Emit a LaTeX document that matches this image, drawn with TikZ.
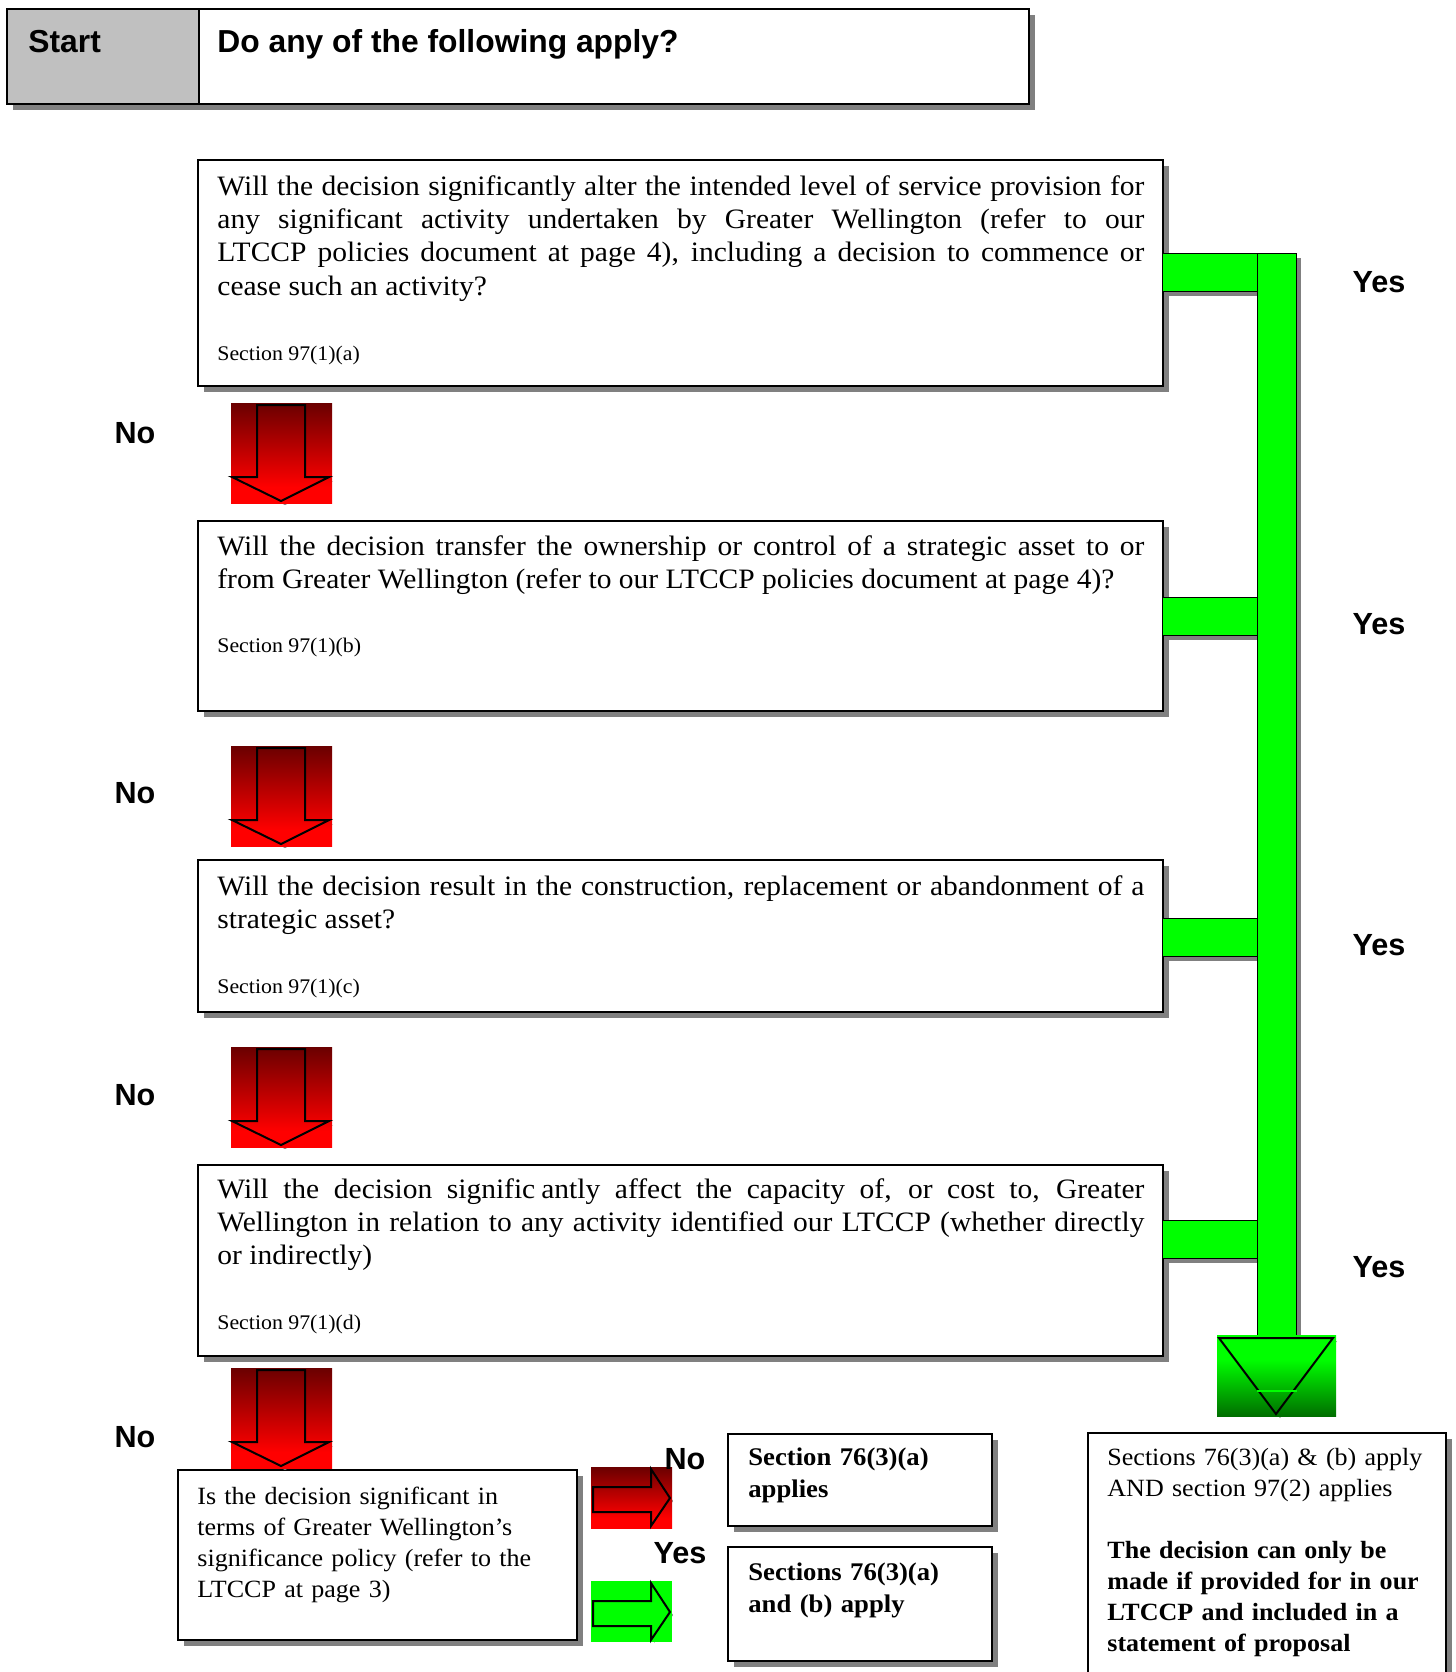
\documentclass[tikz,border=0pt]{standalone}
\usepackage{fontspec}
\setmainfont{Liberation Serif}[FakeStretch=1.05]
\newfontfamily\labelsans{Liberation Sans}
\usetikzlibrary{shadows}

\definecolor{boxshadow}{HTML}{808080}
\definecolor{startgray}{HTML}{C0C0C0}
\definecolor{pipegreen}{HTML}{00FF00}
\definecolor{greendark}{HTML}{006E00}
\definecolor{reddark}{HTML}{6A0000}
\definecolor{redbright}{HTML}{FF0000}

% gradients of the block arrows
\pgfdeclareverticalshading{redfade}{100bp}{color(0bp)=(redbright); color(33bp)=(redbright); color(75bp)=(reddark); color(100bp)=(reddark)}
\pgfdeclareverticalshading{greenfade}{100bp}{color(0bp)=(greendark); color(25bp)=(greendark); color(60bp)=(pipegreen); color(100bp)=(pipegreen)}

% fonts
\newcommand{\qfont}{\fontsize{14.05pt}{16.7pt}\selectfont\tolerance=10000}
\newcommand{\secfont}{\fontsize{10.4pt}{12pt}\selectfont}
\newcommand{\botfont}{\fontsize{12.4pt}{15.5pt}\selectfont}
\newcommand{\resfont}{\fontsize{12.7pt}{16pt}\selectfont\bfseries}
\newcommand{\ansfont}{\labelsans\bfseries\fontsize{15.3pt}{18pt}\selectfont}
\newcommand{\headfont}{\labelsans\bfseries\fontsize{15.9pt}{18pt}\selectfont}

\tikzset{
  qbox/.style={draw, line width=1pt, fill=white, anchor=north west, inner sep=0pt,
    drop shadow={shadow xshift=3pt, shadow yshift=-3pt, fill=boxshadow, opacity=1}},
  qtext/.style={anchor=base west, inner sep=0pt, text width=463.5pt, align=justify, font=\qfont},
  sectext/.style={anchor=base west, inner sep=0pt, font=\secfont},
  bottext/.style={anchor=base west, inner sep=0pt, align=left, font=\botfont},
  headtext/.style={anchor=base west, inner sep=0pt, font=\headfont},
  ans/.style={anchor=base, inner sep=0pt, font=\ansfont},
  pipe/.style={fill=pipegreen, draw=black, line width=0.5pt},
  blockline/.style={draw=black, line width=1pt, line join=miter},
}

% red block arrow pointing down, #1,#2 = top left corner
\newcommand{\downblock}[2]{%
  \begin{scope}[shift={(#1,#2)}]
    \fill[boxshadow] (30,6) -- (78,6) -- (78,78) -- (102,78) -- (54,102) -- (5,78) -- (30,78) -- cycle;
    \shade[shading=redfade] (0,0) rectangle (101,100);
    \draw[blockline] (26,2) -- (74,2) -- (74,74) -- (98,74) -- (50,98) -- (1,74) -- (26,74) -- cycle;
  \end{scope}}

% small block arrow pointing right, #3 = the filling command
\newcommand{\rightblock}[3]{%
  \begin{scope}[shift={(#1,#2)}]
    \fill[boxshadow] (5,23) -- (63,23) -- (63,5) -- (82,34) -- (63,62) -- (63,48) -- (5,48) -- cycle;
    #3 (0,0) rectangle (81,61);
    \draw[blockline] (2,20) -- (60,20) -- (60,2) -- (79,31) -- (60,59) -- (60,45) -- (2,45) -- cycle;
  \end{scope}}

\begin{document}
\begin{tikzpicture}[x=0.5pt, y=-0.5pt]
  \useasboundingbox (0,0) rectangle (1456,1672);

  % Start bar
  \node[qbox, fill=startgray, minimum width=96pt, minimum height=47.5pt] (start) at (6,8) {};
  \node[qbox, minimum width=415pt, minimum height=47.5pt] (head) at (198,8) {};
  \node[headtext] (starttxt) at (28,52) {Start};
  \node[headtext] (headtxt) at (217,52) {Do any of the following apply?};

  % Question boxes
  \node[qbox, minimum width=482.5pt, minimum height=113pt] (q1) at (197,159) {};
  \node[qbox, minimum width=482.5pt, minimum height=95pt] (q2) at (197,520) {};
  \node[qbox, minimum width=482.5pt, minimum height=76pt] (q3) at (197,859) {};
  \node[qbox, minimum width=482.5pt, minimum height=95.5pt] (q4) at (197,1164) {};
  \node[qbox, minimum width=199.5pt, minimum height=85pt] (q5) at (177,1469) {};

  % Result boxes
  \node[qbox, minimum width=132pt, minimum height=46pt] (res1) at (727,1433) {};
  \node[qbox, minimum width=132pt, minimum height=57pt] (res2) at (727,1546) {};
  \node[qbox, minimum width=179pt, minimum height=135pt] (res3) at (1087,1432) {};

  % Question texts
  \node[qtext] (q1txt) at (217,195) {Will the decision significantly alter the intended level of service provision for\linebreak any significant activity undertaken by Greater Wellington (refer to our\linebreak LTCCP policies document at page 4), including a decision to commence or\linebreak cease such an activity?};
  \node[sectext] (q1sec) at (217,360) {Section 97(1)(a)};

  \node[qtext] (q2txt) at (217,555) {Will the decision transfer the ownership or control of a strategic asset to or\linebreak from Greater Wellington (refer to our LTCCP policies document at page 4)?};
  \node[sectext] (q2sec) at (217,652) {Section 97(1)(b)};

  \node[qtext] (q3txt) at (217,895) {Will the decision result in the construction, replacement or abandonment of a\linebreak strategic asset?};
  \node[sectext] (q3sec) at (217,993) {Section 97(1)(c)};

  \node[qtext] (q4txt) at (217,1198) {Will the decision signific\kern3pt antly affect the capacity of, or cost to, Greater\linebreak Wellington in relation to any activity identified our LTCCP (whether directly\linebreak or indirectly)};
  \node[sectext] (q4sec) at (217,1329) {Section 97(1)(d)};

  \node[bottext, text width=180pt] (q5txt) at (197,1504) {Is the decision significant in\\ terms of Greater Wellington’s\\ significance policy (refer to the\\ LTCCP at page 3)};

  % Result texts
  \node[bottext, font=\resfont, text width=118pt] (res1txt) at (748,1465) {Section 76(3)(a)\\ applies};
  \node[bottext, font=\resfont, text width=118pt] (res2txt) at (748,1580) {Sections 76(3)(a)\\ and (b) apply};
  \node[bottext, text width=168pt] (res3txt) at (1107,1465) {Sections 76(3)(a) \& (b) apply\\ AND section 97(2) applies\\[15.5pt] \bfseries The decision can only be\\ made if provided for in our\\ LTCCP and included in a\\ statement of proposal};

  % No arrows
  \foreach \ytop in {403,746,1047,1368}
    \downblock{231}{\ytop};

  % Small arrows to the results
  \rightblock{591}{1467}{\shade[shading=redfade]}
  \rightblock{591}{1581}{\fill[pipegreen]}

  % Yes pipe: shadows first
  \foreach \stubtop/\stubbot in {253/291, 597/635, 918/956, 1220/1258}
    \fill[boxshadow] (1167,\stubtop+5) rectangle (1262,\stubbot+5);
  \fill[boxshadow] (1262,258) rectangle (1301,1335);

  % Yes pipe
  \foreach \stubtop/\stubbot in {253/291, 597/635, 918/956, 1220/1258}
    \draw[pipe] (1162,\stubtop) rectangle (1257,\stubbot);
  \draw[pipe] (1257,253) rectangle (1296,1335);

  % Green arrow head
  \fill[boxshadow] (1221,1341) -- (1337,1341) -- (1280,1418) -- cycle;
  \shade[shading=greenfade] (1217,1335) rectangle (1336,1416);
  \draw[blockline] (1219,1338) -- (1333,1338) -- (1276,1414) -- cycle;
  \draw[pipegreen, line width=1pt] (1257,1391) -- (1297,1391);

  % Labels
  \foreach \yb [count=\i] in {443,803,1105,1447}
    \node[ans] (no\i) at (135,\yb) {No};
  \foreach \yb [count=\i] in {292,634,955,1277}
    \node[ans] (yes\i) at (1379,\yb) {Yes};
  \node[ans] (nobot) at (685,1469) {No};
  \node[ans] (yesbot) at (680,1563) {Yes};
\end{tikzpicture}
\end{document}
